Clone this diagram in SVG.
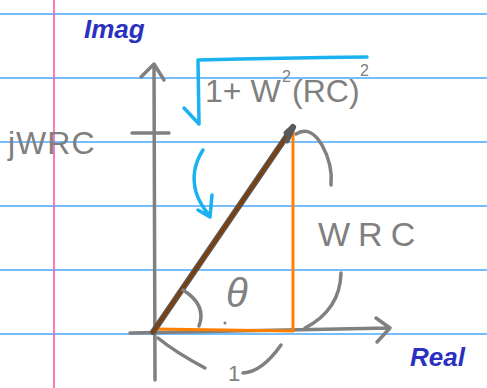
<svg xmlns="http://www.w3.org/2000/svg" width="487" height="388" viewBox="0 0 487 388">
<style>
.rule{stroke:#4aa8ff;stroke-width:1.5}
.ink{fill:none;stroke:#808080;stroke-width:3.5;stroke-linecap:round;stroke-linejoin:round}
.cyan{fill:none;stroke:#1ab2f0;stroke-width:3.5;stroke-linecap:round;stroke-linejoin:round}
.org{fill:none;stroke:#ff8000;stroke-width:3;stroke-linecap:round}
.gt{font-family:"Liberation Sans",Arial,sans-serif;fill:#808080}
.bt{font-family:"Liberation Sans",Arial,sans-serif;fill:#2a30c0;font-weight:bold;font-style:italic}
</style>
<rect width="487" height="388" fill="#ffffff"/>
<g id="paper">
<line class="rule" x1="0" y1="14" x2="487" y2="14"/>
<line class="rule" x1="0" y1="78" x2="487" y2="78"/>
<line class="rule" x1="0" y1="142" x2="487" y2="142"/>
<line class="rule" x1="0" y1="206" x2="487" y2="206"/>
<line class="rule" x1="0" y1="270" x2="487" y2="270"/>
<line class="rule" x1="0" y1="334" x2="487" y2="334"/>
<line x1="54" y1="0" x2="54" y2="388" stroke="#ff4fa0" stroke-width="1.5"/>
</g>
<g id="axes">
<path class="ink" d="M155,380 L154,64 M141,77 L154,64 L164,80"/>
<path class="ink" d="M132,133 L169,133"/>
<path class="ink" d="M130,333 L390,328 M376,318 L390,328 L377,342"/>
</g>
<g id="triangle">
<path class="org" d="M155,329 L293,331 M293,331 L293,126"/>
<path d="M153,332 L293,127" stroke="#5a5a5a" stroke-width="6" stroke-linecap="round"/>
<path d="M153,332 L293,127" stroke="#7a4010" stroke-width="3.5" stroke-linecap="round"/>
<path d="M286,133 L294,126 L287,141" stroke="#5a5a5a" stroke-width="5" stroke-linecap="round" fill="none"/>
</g>
<g id="annotations">
<path class="cyan" d="M184,108 L199,124 L198,60 Q280,58 367,57"/>
<path class="cyan" d="M203,150 Q190,170 196,192 Q200,205 210,216 M212,195 L210,217 L198,210"/>
<path class="ink" d="M296,134 Q310,125 322,145 Q333,165 331,185"/>
<path class="ink" d="M341,273 Q340,310 305,328"/>
<path class="ink" d="M183,290 Q207,305 199,326"/>
<circle cx="225" cy="323" r="1.5" fill="#808080"/>
<path class="ink" d="M158,338 Q175,352 205,368"/>
<path class="ink" d="M243,373 Q262,372 281,345"/>
</g>
<g id="labels">
<text class="bt" x="84" y="38" font-size="26">Imag</text>
<text class="gt" x="8" y="154" font-size="32" letter-spacing="1">jWRC</text>
<text class="gt" x="205" y="102" font-size="32">1+ W</text>
<text class="gt" x="282" y="82" font-size="16">2</text>
<text class="gt" x="292" y="102" font-size="32">(RC)</text>
<text class="gt" x="360" y="76" font-size="16">2</text>
<text class="gt" x="318" y="246" font-size="34" letter-spacing="8">WRC</text>
<text class="gt" x="226" y="307" font-size="40" font-style="italic">θ</text>
<text class="gt" x="228" y="381" font-size="22">1</text>
<text class="bt" x="410" y="366" font-size="26">Real</text>
</g>
</svg>
